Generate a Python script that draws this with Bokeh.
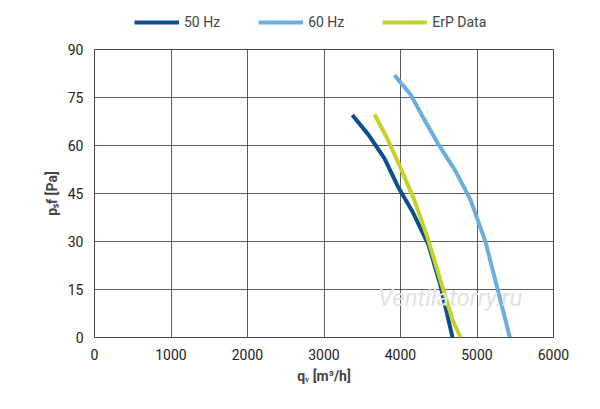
from bokeh.plotting import figure
from bokeh.embed import file_html
from bokeh.resources import INLINE
from bokeh.models import Legend, Label, FixedTicker
from bokeh.layouts import column

q50 = [3370, 3580, 3790, 3970, 4155, 4365, 4520, 4680]
p50 = [69.5, 63.4, 56, 47, 39.4, 29, 16.5, 0]
q60 = [3920, 4130, 4290, 4480, 4720, 4915, 5110, 5270, 5430]
p60 = [82, 76, 69, 61, 52, 43, 30, 15, 0]
qerp = [3660, 3815, 3970, 4180, 4350, 4520, 4680, 4785]
perp = [69.7, 62.8, 54.7, 43, 31.5, 18, 5.6, 0]
xticks = [0, 1000, 2000, 3000, 4000, 5000, 6000]
yticks = [0, 15, 30, 45, 60, 75, 90]
names = ["50 Hz", "60 Hz", "ErP Data"]
colors = ["#0b4f91", "#6aaee0", "#c4d22a"]
series = [(q50, p50), (q60, p60), (qerp, perp)]

F = "Roboto"
p = figure(width=584, height=359, x_range=(0, 6000), y_range=(0, 90),
           output_backend="svg", toolbar_location=None,
           min_border_left=94, min_border_right=31, min_border_top=15, min_border_bottom=56)
p.outline_line_color = "#444444"
p.xaxis.ticker = FixedTicker(ticks=xticks)
p.yaxis.ticker = FixedTicker(ticks=yticks)
for ax in (p.xaxis[0], p.yaxis[0]):
    ax.major_label_text_font = F
    ax.major_label_text_font_size = "14px"
    ax.major_label_text_color = "#222222"
    ax.axis_label_text_font = F
    ax.axis_label_text_font_size = "14px"
    ax.axis_label_text_font_style = "bold"
    ax.axis_line_color = None
    ax.major_tick_line_color = None
    ax.minor_tick_line_color = None
p.xaxis.axis_label = "qᵥ [m³/h]"
p.yaxis.axis_label = "pₛf [Pa]"
p.grid.grid_line_color = "#333333"
p.grid.grid_line_alpha = 1
p.grid.grid_line_width = 0.8

p.add_layout(Label(x=4650, y=8, text="Ventilatorry.ru", text_font=F, text_font_size="24px",
                   text_font_style="italic", text_color="#e2e2e2", text_align="center"))

for (xs, ys), c in zip(series, colors):
    p.line(xs, ys, line_width=4, color=c)

lf = figure(width=584, height=34, x_range=(0, 1), y_range=(0, 1), output_backend="svg",
            toolbar_location=None, min_border=0, outline_line_color=None)
lf.axis.visible = False
lf.grid.visible = False
rs = [lf.line(xs, ys, line_width=4, color=c) for (xs, ys), c in zip(series, colors)]
leg = Legend(items=[(n, [r]) for n, r in zip(names, rs)],
             orientation="horizontal", border_line_color=None, background_fill_alpha=0,
             label_text_font=F, label_text_font_size="14px", glyph_width=45,
             spacing=38, margin=0, padding=0, location=(40, 2))
lf.add_layout(leg)

open("out.html", "w").write(file_html(column(lf, p, spacing=0), INLINE))
